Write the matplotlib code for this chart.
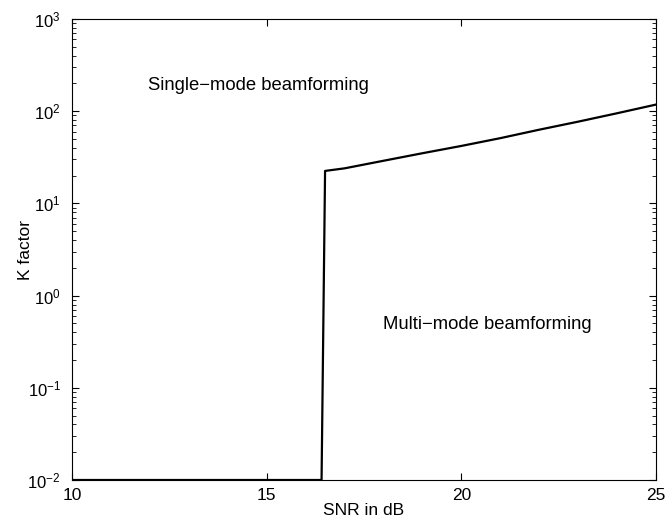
import matplotlib
matplotlib.use("Agg")
import matplotlib.pyplot as plt
from matplotlib.ticker import LogLocator, NullFormatter

plt.rcParams["font.family"] = ["Liberation Sans", "DejaVu Sans"]
plt.rcParams["mathtext.default"] = "regular"

# boundary between single-mode and multi-mode regions
snr_db = [10, 16.41, 16.5, 17, 18, 19, 20, 21, 22, 23, 24, 25]
k_factor = [0.01, 0.01, 22.5, 24, 29, 35, 42, 51, 63, 77, 95, 118]

fig = plt.figure(figsize=(6.7, 5.22), dpi=100)
ax = fig.add_axes([72 / 670, 1 - 480 / 522, 584 / 670, 461 / 522])

ax.semilogy(snr_db, k_factor, color="black", linewidth=1.6)
ax.set_xlim(10, 25)
ax.set_ylim(1e-2, 1e3)
ax.set_xticks([10, 15, 20, 25])
ax.yaxis.set_major_locator(LogLocator(base=10, numticks=10))
ax.yaxis.set_minor_locator(LogLocator(base=10, subs=range(2, 10), numticks=10))
ax.yaxis.set_minor_formatter(NullFormatter())
ax.tick_params(which="both", direction="in", top=True, right=True, labelsize=12.5)
ax.tick_params(axis="y", labelsize=12)
ax.tick_params(axis="x", pad=6)
ax.tick_params(axis="y", pad=8)
ax.tick_params(which="major", length=5)
ax.tick_params(which="minor", length=3)
for s in ax.spines.values():
    s.set_linewidth(0.8)

ax.text(11.95, 190, "Single\u2212mode beamforming", fontsize=13.3, va="center")
ax.text(17.99, 0.48, "Multi\u2212mode beamforming", fontsize=13.3, va="center")

ax.set_xlabel("SNR in dB", fontsize=12.5)
ax.set_ylabel("K factor", fontsize=12.5)
ax.xaxis.set_label_coords(0.5, -0.05)
ax.yaxis.set_label_coords(-0.067, 0.5)

plt.savefig("out.png", dpi=100, facecolor="white")
plt.close()
